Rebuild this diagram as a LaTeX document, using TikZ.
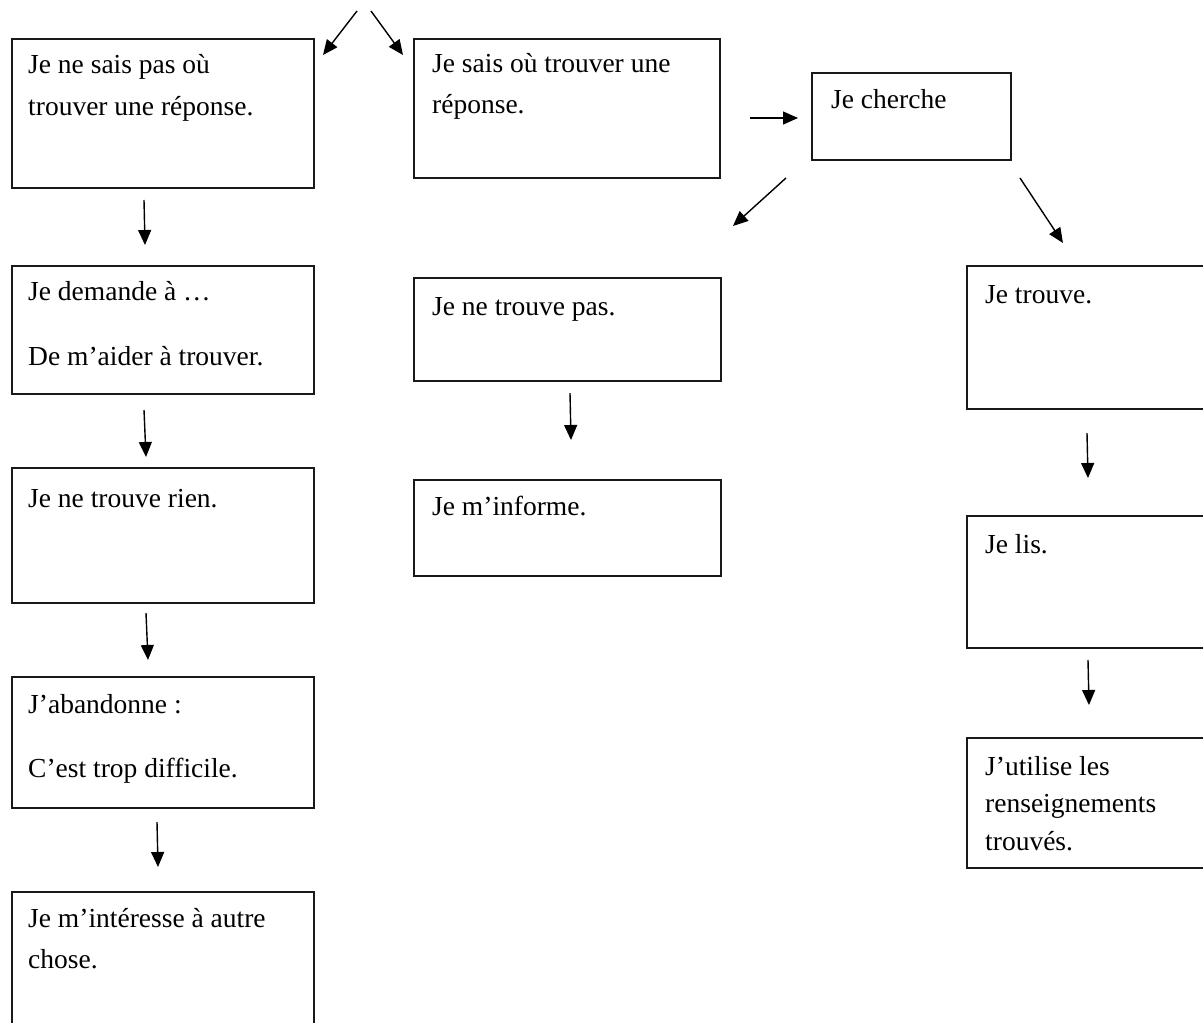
\documentclass[tikz,border=0pt]{standalone}
\usepackage{fontspec}
\setmainfont{Liberation Serif}
\usetikzlibrary{arrows.meta}
\newcommand\txtlines[2][42pt]{\vtop{\baselineskip=#1\lineskiplimit=-100pt\lineskip=0pt #2}}
\begin{document}
\begin{tikzpicture}[x=1pt,y=-1pt,
  box/.style={draw=black!90,line width=1.8pt,anchor=north west,inner sep=0pt},
  arr/.style={draw=black,line width=1.4pt,-{Triangle[length=15pt,width=13pt]}},
  txt/.style={anchor=base west,inner sep=0pt,font=\fontsize{27.5}{42}\selectfont}]
\useasboundingbox (0,0) rectangle (1203,1023);
\fill[white] (0,0) rectangle (1203,1023);
\clip (0,0) rectangle (1203,1023);

% left column
\node[box,minimum width=302pt,minimum height=149pt] (b1) at (11,38) {};
\node[box,minimum width=302pt,minimum height=128pt] (bB) at (11,265) {};
\node[box,minimum width=302pt,minimum height=135pt] (bC) at (11,467) {};
\node[box,minimum width=302pt,minimum height=131pt] (bD) at (11,676) {};
\node[box,minimum width=302pt,minimum height=160pt] (bE) at (11,891) {};
% middle column
\node[box,minimum width=306pt,minimum height=139pt] (b2) at (413,38) {};
\node[box,minimum width=307pt,minimum height=103pt] (bM1) at (413,277) {};
\node[box,minimum width=307pt,minimum height=96pt] (bM2) at (413,479) {};
% right
\node[box,minimum width=199pt,minimum height=87pt] (bch) at (811,72) {};
\node[box,minimum width=260pt,minimum height=143pt] (bR1) at (966,265) {};
\node[box,minimum width=260pt,minimum height=132pt] (bR2) at (966,515) {};
\node[box,minimum width=260pt,minimum height=130pt] (bR3) at (966,737) {};

% texts
\node[txt] (t1) at (28,73) {\txtlines{\hbox{Je ne sais pas où}\hbox{trouver une réponse.}}};
\node[txt] (tB) at (28,300) {\txtlines{\hbox{Je demande à …}\vskip 23pt\hbox{De m’aider à trouver.}}};
\node[txt] (tC) at (28,507) {Je ne trouve rien.};
\node[txt] (tD) at (28,713) {\txtlines{\hbox{J’abandonne :}\vskip 22pt\hbox{C’est trop difficile.}}};
\node[txt] (tE) at (28,927) {\txtlines[41pt]{\hbox{Je m’intéresse à autre}\hbox{chose.}}};
\node[txt] (t2) at (432,72) {\txtlines[41pt]{\hbox{Je sais où trouver une}\hbox{réponse.}}};
\node[txt] (tM1) at (432,315) {Je ne trouve pas.};
\node[txt] (tM2) at (432,515) {Je m’informe.};
\node[txt] (tch) at (831,108) {Je cherche};
\node[txt] (tR1) at (985,303) {Je trouve.};
\node[txt] (tR2) at (985,553) {Je lis.};
\node[txt] (tR3) at (985,775) {\txtlines[37.5pt]{\hbox{J’utilise les}\hbox{renseignements}\hbox{trouvés.}}};

% arrow end points
\coordinate (s0) at (357,11);  \coordinate (e0L) at (323,55);
\coordinate (s0r) at (371,11); \coordinate (e0R) at (403,55);
\coordinate (s1) at (144,200); \coordinate (e1) at (145,245);
\coordinate (s2) at (144,410); \coordinate (e2) at (146,457);
\coordinate (s3) at (146,613); \coordinate (e3) at (148,660);
\coordinate (s4) at (157,822); \coordinate (e4) at (158,867);
\coordinate (s5) at (750,118); \coordinate (e5) at (798,118);
\coordinate (s6) at (786,178); \coordinate (e6) at (733,226);
\coordinate (s7) at (1020,178); \coordinate (e7) at (1063,243);
\coordinate (s8) at (570,393); \coordinate (e8) at (571,440);
\coordinate (s9) at (1087,433); \coordinate (e9) at (1088,478);
\coordinate (s10) at (1088,660); \coordinate (e10) at (1089,705);

\draw[arr] (s0) -- (e0L);
\draw[arr] (s0r) -- (e0R);
\draw[arr] (s1) -- (e1);
\draw[arr] (s2) -- (e2);
\draw[arr] (s3) -- (e3);
\draw[arr] (s4) -- (e4);
\draw[arr] (s5) -- (e5);
\draw[arr] (s6) -- (e6);
\draw[arr] (s7) -- (e7);
\draw[arr] (s8) -- (e8);
\draw[arr] (s9) -- (e9);
\draw[arr] (s10) -- (e10);
\end{tikzpicture}
\end{document}
